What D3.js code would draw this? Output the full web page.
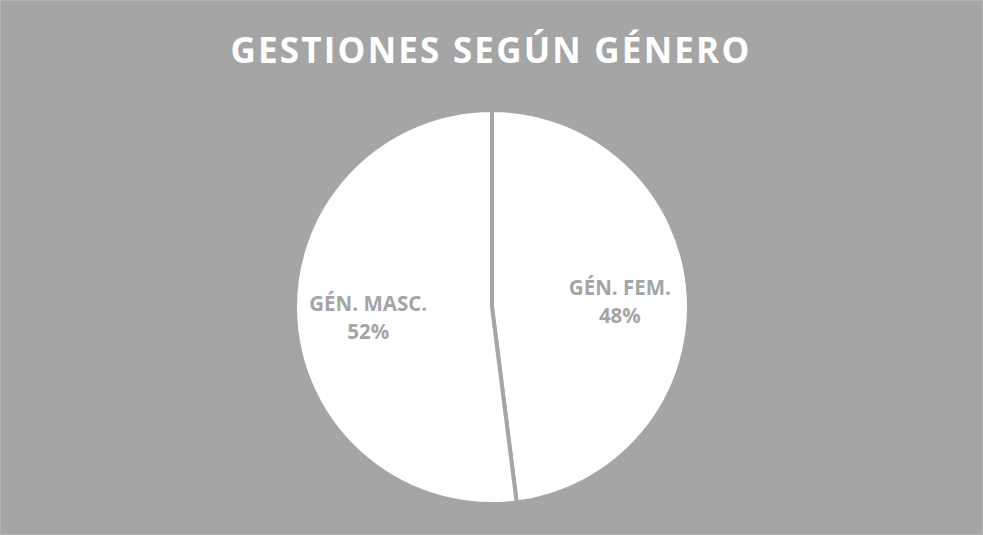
<!DOCTYPE html>
<html>
<head>
<meta charset="utf-8">
<script src="https://cdn.jsdelivr.net/npm/d3@7"></script>
<style>
  html, body { margin: 0; padding: 0; background: #a5a5a5; }
  svg { display: block; }
</style>
</head>
<body>
<div id="chart"></div>
<script>
const categories = ['GÉN. FEM.', 'GÉN. MASC.']
const shares = [48, 52]
const chartTitle = 'GESTIONES SEGÚN GÉNERO'

const width = 983, height = 535
const bg = '#a5a5a5'

const svg = d3.select('#chart').append('svg')
  .attr('width', width)
  .attr('height', height)

svg.append('rect')
  .attr('width', width).attr('height', height)
  .attr('fill', bg)
  .attr('stroke', '#b4b4b4')
  .attr('stroke-width', 2)

svg.append('text')
  .attr('x', 491)
  .attr('y', 63)
  .attr('text-anchor', 'middle')
  .attr('font-family', 'Open Sans, sans-serif')
  .attr('font-weight', 'bold')
  .attr('font-size', 35)
  .attr('letter-spacing', 2.2)
  .attr('fill', '#ffffff')
  .text(chartTitle)

const cx = 492, cy = 307, radius = 197

const pie = d3.pie().sort(null).value(d => d)
const arc = d3.arc().innerRadius(0).outerRadius(radius)
const labelArc = d3.arc().innerRadius(radius * 0.64).outerRadius(radius * 0.64)

const g = svg.append('g')
  .attr('transform', 'translate(' + cx + ',' + cy + ')')

const arcs = pie(shares)

g.selectAll('path')
  .data(arcs)
  .enter().append('path')
  .attr('d', arc)
  .attr('fill', '#ffffff')
  .attr('stroke', bg)
  .attr('stroke-width', 4)
  .attr('stroke-linejoin', 'round')

const labels = g.selectAll('text.lbl')
  .data(arcs)
  .enter().append('text')
  .attr('class', 'lbl')
  .attr('transform', d => {
    const c = labelArc.centroid(d)
    return 'translate(' + (c[0] + 2) + ',' + (c[1] - 4) + ')'
  })
  .attr('text-anchor', 'middle')
  .attr('font-family', 'Open Sans, sans-serif')
  .attr('font-weight', 'bold')
  .attr('font-size', 20.5)
  .attr('fill', bg)

labels.append('tspan')
  .attr('x', 0)
  .attr('dy', 0)
  .text((d, i) => categories[i])
labels.append('tspan')
  .attr('x', 0)
  .attr('dy', 28)
  .text((d, i) => shares[i] + '%')
</script>
</body>
</html>
